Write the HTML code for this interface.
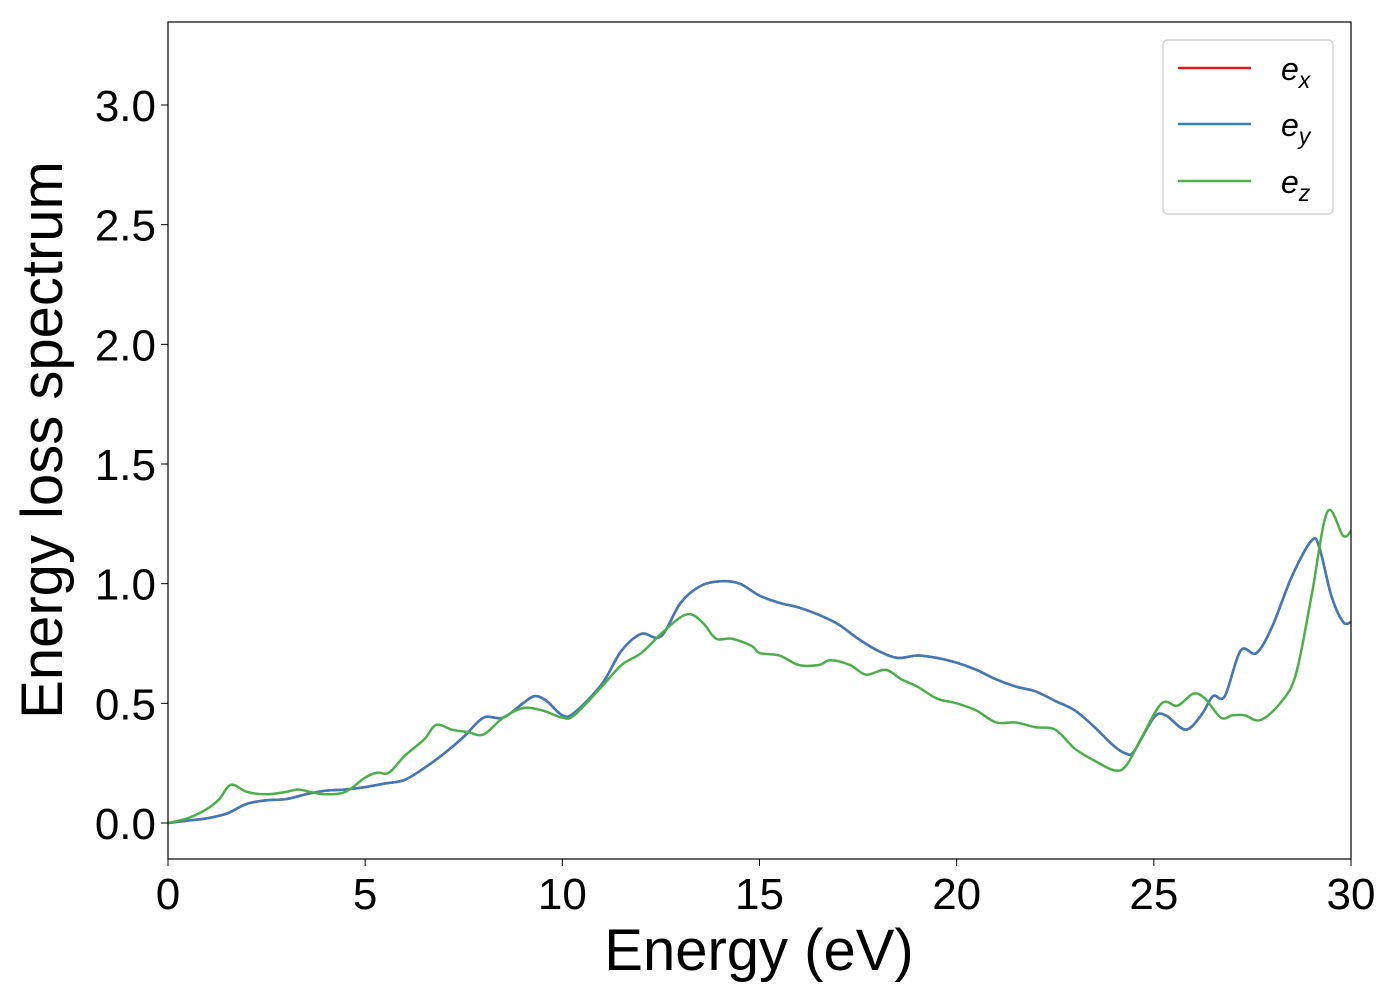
<!DOCTYPE html>
<html><head><meta charset="utf-8"><style>
body{margin:0;background:#fff;}
svg text{font-family:"Liberation Sans",sans-serif;}
</style></head><body>
<svg id="chart" width="1400" height="1000" xmlns="http://www.w3.org/2000/svg">
<rect width="1400" height="1000" fill="#fff"/>
<g id="plot"></g>
<rect x="168" y="22" width="1183" height="837" fill="none" stroke="#000" stroke-width="1.2"/>
<g id="xticks"></g><g id="yticks"></g>
<text x="759" y="970" font-size="58" text-anchor="middle">Energy (eV)</text>
<text transform="translate(62,440) rotate(-90)" font-size="58" text-anchor="middle">Energy loss spectrum</text>
<g>
<rect x="1163" y="40" width="170" height="174" rx="5" fill="#fff" stroke="#ccc" stroke-width="1.2"/>
<line x1="1178" y1="68" x2="1251" y2="68" stroke="#e41a1c" stroke-width="2.5"/>
<text x="1281" y="80" font-size="32" font-style="italic">e<tspan font-size="23" dy="8">x</tspan></text>
<line x1="1178" y1="124" x2="1251" y2="124" stroke="#377eb8" stroke-width="2.5"/>
<text x="1281" y="136" font-size="32" font-style="italic">e<tspan font-size="23" dy="8">y</tspan></text>
<line x1="1178" y1="181" x2="1251" y2="181" stroke="#4daf4a" stroke-width="2.5"/>
<text x="1281" y="193" font-size="32" font-style="italic">e<tspan font-size="23" dy="8">z</tspan></text>
</g>
</svg>
<script>
const xTicks=[0,5,10,15,20,25,30];
const yTicks=[0.0,0.5,1.0,1.5,2.0,2.5,3.0];
const xyEnergy=[0,0.5,1,1.5,2,2.5,3,3.5,4,4.5,5,5.5,6,6.5,7,7.5,8,8.5,9,9.3,9.6,10,10.3,11,11.5,12,12.5,13,13.5,14,14.5,15,15.5,16,16.5,17,17.5,18,18.5,19,19.5,20,20.5,21,21.5,22,22.5,23,23.5,24,24.3,24.5,25,25.3,25.8,26.2,26.5,26.8,27.2,27.6,28,28.5,29,29.2,29.5,29.8,30];
const exValues=[0,0.01,0.02,0.04,0.08,0.095,0.1,0.12,0.135,0.14,0.15,0.165,0.18,0.23,0.29,0.36,0.44,0.44,0.5,0.53,0.51,0.45,0.46,0.58,0.72,0.79,0.78,0.92,0.99,1.01,1.0,0.95,0.92,0.9,0.87,0.83,0.77,0.72,0.69,0.70,0.69,0.67,0.64,0.6,0.57,0.55,0.51,0.47,0.4,0.32,0.29,0.3,0.44,0.45,0.39,0.45,0.53,0.53,0.72,0.71,0.82,1.03,1.18,1.15,0.95,0.84,0.84];
const eyValues=exValues.slice();
const zEnergy=[0,0.5,1,1.3,1.6,2,2.5,3,3.3,3.6,4,4.5,5,5.3,5.6,6,6.5,6.8,7.2,7.6,8,8.5,9,9.5,10,10.3,11,11.5,12,12.5,13,13.3,13.6,13.9,14.3,14.8,15,15.5,16,16.5,16.8,17.3,17.7,18.2,18.6,19,19.5,20,20.5,21,21.5,22,22.5,23,23.5,24,24.3,24.7,25.2,25.6,26,26.3,26.7,27,27.3,27.7,28.2,28.6,29,29.4,29.8,30];
const ezValues=[0,0.02,0.06,0.1,0.16,0.13,0.12,0.13,0.14,0.13,0.12,0.13,0.19,0.21,0.21,0.28,0.35,0.41,0.39,0.38,0.37,0.44,0.48,0.47,0.44,0.45,0.57,0.66,0.71,0.79,0.86,0.87,0.83,0.77,0.77,0.74,0.71,0.7,0.66,0.66,0.68,0.66,0.62,0.64,0.6,0.57,0.52,0.5,0.47,0.42,0.42,0.4,0.39,0.31,0.26,0.22,0.24,0.36,0.5,0.49,0.54,0.52,0.44,0.45,0.45,0.43,0.5,0.62,0.95,1.3,1.2,1.22];
const NS="http://www.w3.org/2000/svg";
const X=v=>168+v*(1183/30);
const Y=v=>823-v*239.33;
function smooth(xs,ys){
  const p=xs.map((x,i)=>[X(x),Y(ys[i])]);
  let d=`M${p[0][0]},${p[0][1]}`;
  for(let i=0;i<p.length-1;i++){
    const p0=p[Math.max(0,i-1)],p1=p[i],p2=p[i+1],p3=p[Math.min(p.length-1,i+2)];
    d+=` C${p1[0]+(p2[0]-p0[0])/6},${p1[1]+(p2[1]-p0[1])/6} ${p2[0]-(p3[0]-p1[0])/6},${p2[1]-(p3[1]-p1[1])/6} ${p2[0]},${p2[1]}`;
  }
  return d;
}
const plot=document.getElementById('plot');
function addLine(xs,ys,color,name){
  const el=document.createElementNS(NS,'path');
  el.setAttribute('d',smooth(xs,ys));
  el.setAttribute('fill','none');el.setAttribute('stroke',color);el.setAttribute('stroke-width','2.5');
  
  
  plot.appendChild(el);
}
addLine(xyEnergy,exValues,'#e41a1c','series-ex');
addLine(xyEnergy,eyValues,'#3f7bb8','series-ey');
addLine(zEnergy,ezValues,'#4daf4a','series-ez');
const xt=document.getElementById('xticks');
xTicks.forEach(t=>{
  const l=document.createElementNS(NS,'line');
  l.setAttribute('x1',X(t));l.setAttribute('x2',X(t));l.setAttribute('y1',859);l.setAttribute('y2',866);l.setAttribute('stroke','#000');
  
  
  xt.appendChild(l);
  const tx=document.createElementNS(NS,'text');
  tx.setAttribute('x',X(t));tx.setAttribute('y',909);tx.setAttribute('font-size','44');tx.setAttribute('text-anchor','middle');
  tx.textContent=t;
  
  
  xt.appendChild(tx);
});
const yt=document.getElementById('yticks');
yTicks.forEach(t=>{
  const l=document.createElementNS(NS,'line');
  l.setAttribute('x1',161);l.setAttribute('x2',168);l.setAttribute('y1',Y(t));l.setAttribute('y2',Y(t));l.setAttribute('stroke','#000');
  
  
  yt.appendChild(l);
  const tx=document.createElementNS(NS,'text');
  tx.setAttribute('x',156);tx.setAttribute('y',Y(t)+16);tx.setAttribute('font-size','44');tx.setAttribute('text-anchor','end');
  tx.textContent=t.toFixed(1);
  
  
  yt.appendChild(tx);
});
</script>
</body></html>
